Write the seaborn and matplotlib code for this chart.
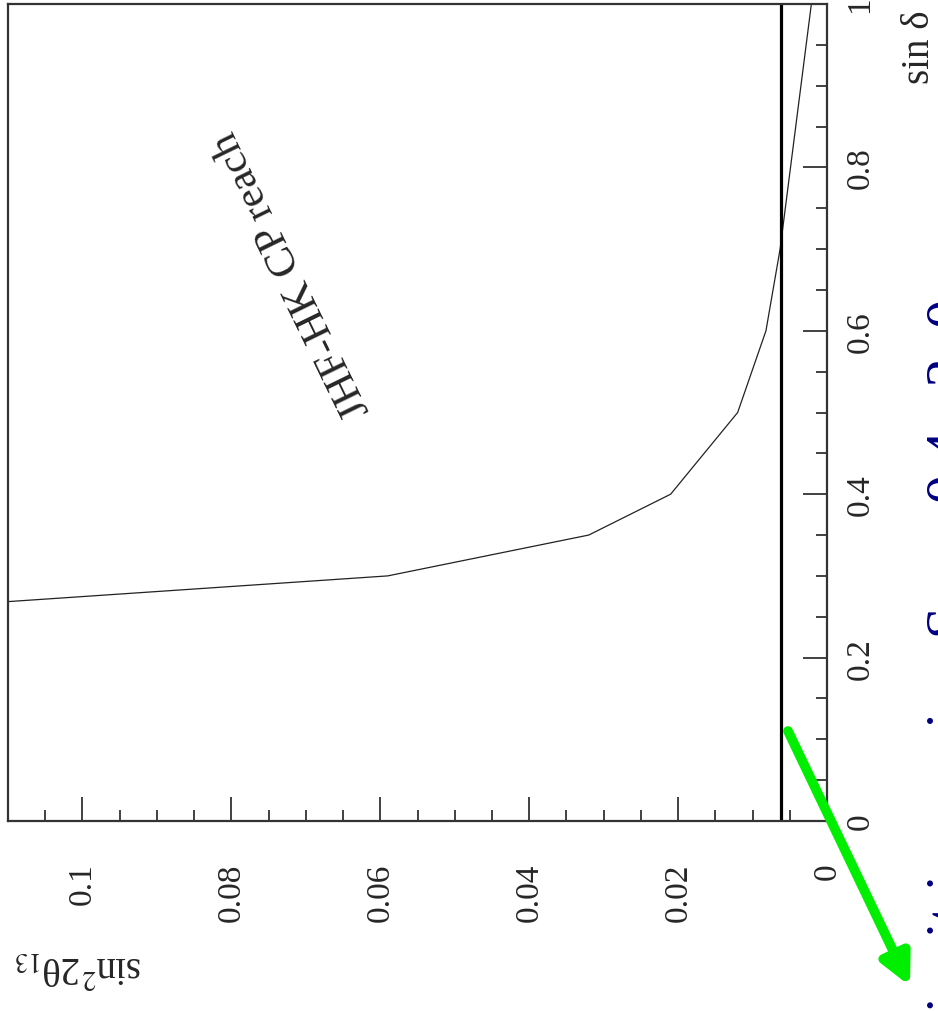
import matplotlib
matplotlib.use("Agg")
import matplotlib.pyplot as plt
import seaborn as sns

sns.set_style("white")
plt.rcParams['font.family'] = ['Liberation Serif', 'DejaVu Serif']
plt.rcParams['mathtext.fontset'] = 'stix'

# CP reach curve: sin^2 2theta13 versus sin delta
sin2_13 = [0.14, 0.059, 0.032, 0.021, 0.012, 0.0082, 0.0063, 0.0049, 0.0035, 0.0021]
sin_delta = [0.25, 0.30, 0.35, 0.40, 0.50, 0.60, 0.70, 0.80, 0.90, 1.00]
sens_limit = 0.0062

x_major = [0, 0.02, 0.04, 0.06, 0.08, 0.1]
x_labels = ["0", "0.02", "0.04", "0.06", "0.08", "0.1"]
y_major = [0, 0.2, 0.4, 0.6, 0.8, 1.0]
y_labels = ["0", "0.2", "0.4", "0.6", "0.8", "1"]

W, H = 938, 1012
fig = plt.figure(figsize=(W / 100, H / 100), dpi=100)
ax = fig.add_axes([8 / W, 1 - 822 / H, (827 - 8) / W, (822 - 5) / H])

sns.lineplot(x=sin2_13, y=sin_delta, sort=False, estimator=None,
             color="#222222", linewidth=0.9, ax=ax)
ax.axvline(sens_limit, color="black", linewidth=2.3)

ax.set_xlim(0.11, 0)
ax.set_ylim(0, 1)

# ticks
ax.set_xticks(x_major)
ax.set_xticklabels(x_labels, rotation=90, fontsize=24)
ax.set_xticks([i * 0.005 for i in range(23)], minor=True)
ax.yaxis.tick_right()
ax.set_yticks(y_major)
ax.set_yticklabels(y_labels, rotation=90, fontsize=24, va="center")
ax.set_yticks([i * 0.05 for i in range(21)], minor=True)
ax.tick_params(which="major", direction="in", length=17, width=1.3,
               color="#333333")
ax.tick_params(which="minor", direction="in", length=8, width=1.3,
               color="#333333")
ax.tick_params(axis="x", which="major", pad=30)
ax.tick_params(axis="y", which="major", pad=13)
ax.tick_params(axis="y", which="both", left=False, right=True)
ax.tick_params(axis="x", which="both", top=False, bottom=True)
for s in ax.spines.values():
    s.set_color("#333333")
    s.set_linewidth(1.6)
ax.set_xlabel("")
ax.set_ylabel("")

ax.text(0.347, 0.67, "JHF-HK CP reach", transform=ax.transAxes,
        rotation=116, rotation_mode="anchor", ha="center", va="center",
        fontsize=31)

# axis titles (the whole picture is turned on its side)
fig.text(919 / W, 1 - 47 / H, "sin δ", rotation=90,
         ha="center", va="center", fontsize=28)
fig.text(78 / W, 1 - 968 / H, r"sin$^{\mathrm{2}}$2θ$_{\mathrm{13}}$",
         rotation=180, ha="center", va="center", fontsize=28)

# slide overlay: green arrow and clipped blue text
ax.annotate("", xy=(910, H - 987), xytext=(788, H - 732),
            xycoords="figure pixels", textcoords="figure pixels",
            arrowprops=dict(arrowstyle="-|>", color="#00ee00", lw=7,
                            mutation_scale=45, shrinkA=0, shrinkB=0),
            annotation_clip=False)
slide_text = "i    it i          i     S       0.4   2  0"
fig.text(965 / W, 0, slide_text, rotation=90, rotation_mode="anchor",
         ha="left", va="baseline", fontsize=42, color="#000080")

fig.savefig("out.png", dpi=100)
